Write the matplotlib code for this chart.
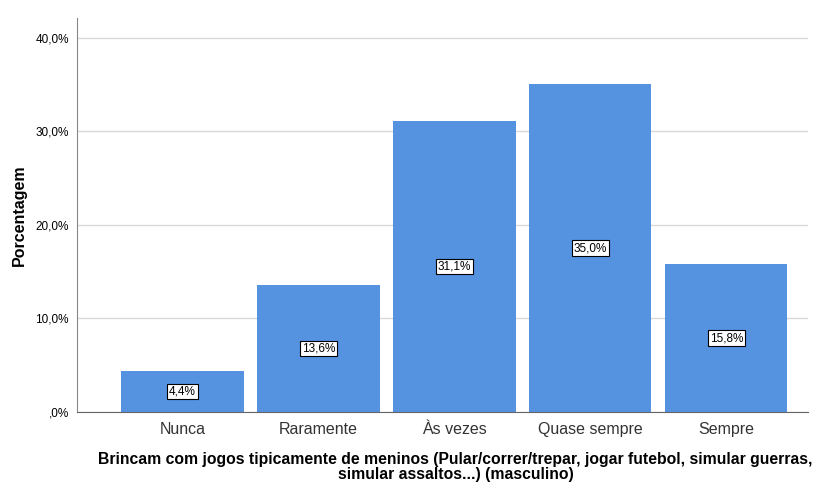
import matplotlib.pyplot as plt
from matplotlib.ticker import FuncFormatter

plt.rcParams['font.family'] = ['Liberation Sans', 'DejaVu Sans']

# Data
categories = ["Nunca", "Raramente", "Às vezes", "Quase sempre", "Sempre"]
percentages = [4.4, 13.6, 31.1, 35.0, 15.8]
yticks = [0, 10, 20, 30, 40]

fig = plt.figure(figsize=(8.16, 4.83), dpi=100)
ax = fig.add_axes([0.0944, 0.147, 0.8956, 0.816])

x = range(len(categories))
ax.bar(x, percentages, width=0.9, color="#5592e0", zorder=2)

# Value labels boxed in middle of each bar
for xi, v in zip(x, percentages):
    ax.text(xi, v / 2, f"{v:.1f}%".replace(".", ","), ha="center", va="center",
            fontsize=8.5, zorder=3,
            bbox=dict(boxstyle="square,pad=0.15", fc="white", ec="black", lw=0.8))

ax.set_xlim(-0.775, 4.6)
ax.set_ylim(0, 42.1)
ax.set_yticks(yticks)
ax.yaxis.set_major_formatter(FuncFormatter(lambda v, p: ("%.1f%%" % v).replace(".", ",").lstrip("0")))
ax.set_xticks(list(x))
ax.set_xticklabels(categories, fontsize=11.5, color="#333333")
ax.tick_params(axis="y", labelsize=8.5, length=0, pad=6)
ax.tick_params(axis="x", length=0, pad=7)
ax.grid(axis="y", color="#d9d9d9", lw=1, zorder=0)

for s in ["top", "right"]:
    ax.spines[s].set_visible(False)
ax.spines["left"].set_color("#888888")
ax.spines["bottom"].set_color("#666666")

ax.set_ylabel("Porcentagem", fontsize=11.5, fontweight="bold", labelpad=6)
ax.set_xlabel("Brincam com jogos tipicamente de meninos (Pular/correr/trepar, jogar futebol, simular guerras,\n"
              "simular assaltos...) (masculino)", fontsize=11.3, fontweight="bold", labelpad=11,
              ha="center", x=0.518, linespacing=1.0)

fig.savefig("out.png", dpi=100)
